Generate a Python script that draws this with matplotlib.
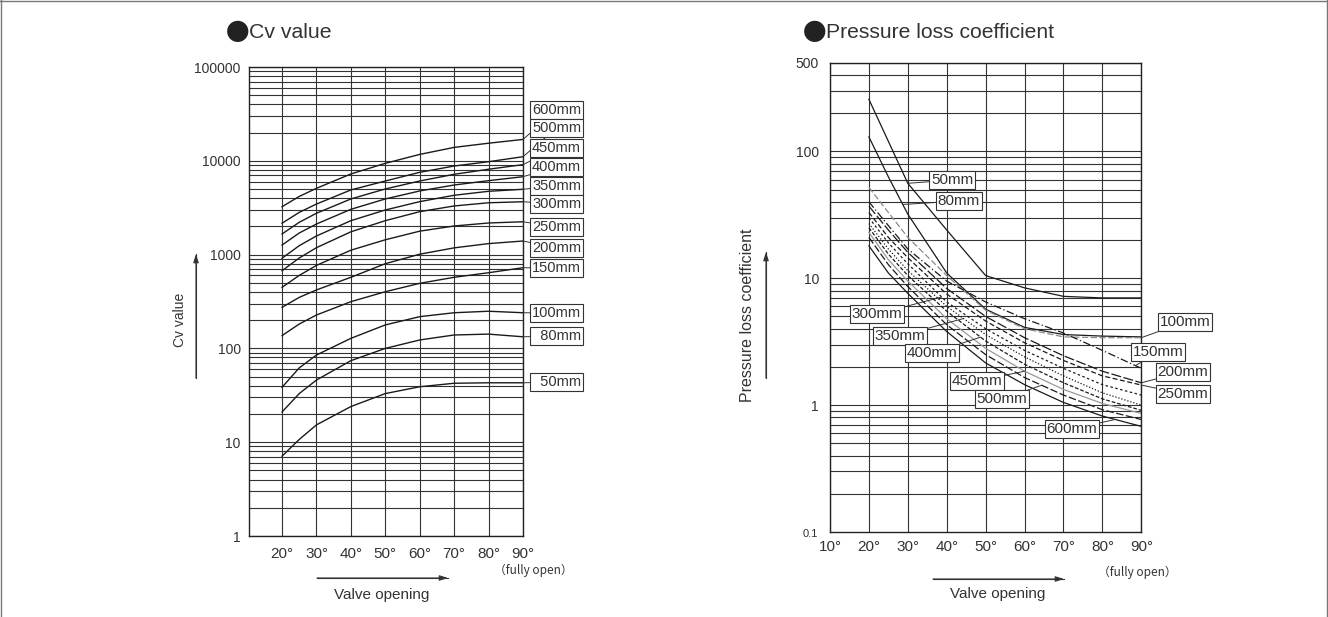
import numpy as np
import matplotlib
matplotlib.use("Agg")
import matplotlib.pyplot as plt
from matplotlib.ticker import FixedLocator, LogLocator, NullFormatter

plt.rcParams['font.family'] = ['Liberation Sans', 'DejaVu Sans']

W, H = 1328, 617
TXT = '#333333'

# ---- Cv value chart data (valve opening in degrees) ----
cv_deg = [20, 25, 30, 40, 50, 60, 70, 80, 90]
cv_600 = [3240, 4170, 5090, 7240, 9400, 11700, 13900, 15400, 16900]
cv_500 = [2160, 2820, 3460, 4890, 6090, 7540, 8800, 9780, 11060]
cv_450 = [1660, 2210, 2760, 3920, 5010, 6090, 7180, 8130, 9100]
cv_400 = [1265, 1700, 2120, 3040, 3920, 4770, 5520, 6140, 6770]
cv_350 = [915, 1245, 1580, 2300, 2990, 3670, 4290, 4730, 4970]
cv_300 = [673, 920, 1185, 1750, 2300, 2870, 3300, 3570, 3660]
cv_250 = [448, 600, 767, 1114, 1439, 1778, 2018, 2173, 2239]
cv_200 = [274, 350, 420, 573, 800, 1010, 1180, 1310, 1396]
cv_150 = [137, 182, 227, 315, 402, 494, 573, 641, 725]
cv_100 = [38.5, 62, 85, 128, 178, 218, 240, 249, 240]
cv_80 = [21, 33, 46, 74, 100, 123, 139, 142, 133]
cv_50 = [7.1, 10.7, 15.3, 24, 33, 39, 42.5, 43, 43]

cv_sizes = ['600mm', '500mm', '450mm', '400mm', '350mm', '300mm',
            '250mm', '200mm', '150mm', '100mm', '  80mm', '  50mm']
cv_label_y = [110, 128, 148, 167, 186, 204, 227, 248, 268, 313, 336, 382]

# ---- Pressure loss coefficient chart data ----
pl_deg = [20, 25, 30, 40, 50, 60, 70, 80, 90]
pl_50 = [257, 120, 56, 24, 10.5, 8.4, 7.2, 7.0, 7.0]
pl_80 = [130, 63, 32, 11, 5.7, 4.1, 3.6, 3.5, 3.45]
pl_100 = [52, 33, 21, 10.5, 5.6, 4.0, 3.45, 3.4, 3.4]
pl_150 = [40, 26, 17, 9.5, 6.5, 4.8, 3.7, 2.7, 1.95]
pl_200 = [37, 24, 16, 8.3, 5.0, 3.4, 2.45, 1.85, 1.5]
pl_250 = [33, 21, 14.5, 7.5, 4.6, 3.1, 2.25, 1.7, 1.44]
pl_300 = [30, 19, 13, 6.5, 4.0, 2.7, 1.95, 1.45, 1.2]
pl_350 = [27, 17, 11.5, 6.0, 3.6, 2.4, 1.7, 1.25, 1.0]
pl_400 = [25, 15.5, 10.5, 5.5, 3.2, 2.1, 1.5, 1.12, 0.91]
pl_450 = [23, 14, 9.5, 4.8, 2.8, 1.85, 1.33, 1.03, 0.86]
pl_500 = [21, 12.8, 8.6, 4.3, 2.5, 1.65, 1.2, 0.92, 0.77]
pl_600 = [18, 11, 7.6, 3.8, 2.15, 1.45, 1.05, 0.82, 0.68]

pl_sizes = ['50mm', '80mm', '100mm', '150mm', '200mm', '250mm',
            '300mm', '350mm', '400mm', '450mm', '500mm', '600mm']
# where the leader line touches the curve (degrees) and label centre (pixels)
pl_lead_deg = [30, 28.7, 90, 88.5, 90, 90, 38.7, 44.3, 48.7, 60, 64.4, 83.3]
pl_label_xy = [(952, 180), (959, 201), (1185, 322), (1158, 352), (1183, 372),
               (1183, 394), (877, 314), (900, 336), (932, 353), (977, 381),
               (1002, 399), (1072, 429)]


def fp(x, y):
    # image pixel (top-left origin) -> figure pixel
    return (x, H - y)


def fx(x, y):
    return (x / W, 1 - y / H)


def arrow(x0, y0, x1, y1):
    fig.add_artist(plt.Line2D([x0 / W, x1 / W], [1 - y0 / H, 1 - y1 / H], color=TXT, lw=0.8))
    fig.text(*fx(x1, y1), '', fontsize=1)
    fig.patches.append(plt.matplotlib.patches.FancyArrowPatch(
        fx(x0, y0), fx(x1, y1), transform=fig.transFigure, figure=fig,
        arrowstyle='-|>,head_length=5,head_width=1.6', color=TXT, lw=0.8,
        shrinkA=0, shrinkB=0, mutation_scale=1))


fig = plt.figure(figsize=(W / 100, H / 100), dpi=100)

# figure frame
for xs, ys in [([0.5, 0.5], [0, H]), ([W - 1.5, W - 1.5], [0, H]), ([0, W], [H - 0.5, H - 0.5])]:
    fig.add_artist(plt.Line2D(np.array(xs) / W, np.array(ys) / H, color='#777777', lw=1))


def style_axes(ax):
    for s in ax.spines.values():
        s.set_color('#222222')
        s.set_linewidth(1.0)
    ax.grid(which='major', color='#333333', lw=0.8)
    ax.grid(which='minor', axis='y', color='#333333', lw=0.8)
    ax.tick_params(which='both', length=0, colors=TXT)
    ax.yaxis.set_minor_locator(LogLocator(base=10, subs=np.arange(2, 10)))
    ax.yaxis.set_minor_formatter(NullFormatter())
    ax.set_axisbelow(True)


# ================= Cv value =================
ax1 = fig.add_axes([249 / W, 81 / H, 274 / W, 469 / H])
ax1.set_yscale('log')
ax1.set_xlim(10.4, 90)
ax1.set_ylim(1, 100000)
style_axes(ax1)
ax1.xaxis.set_major_locator(FixedLocator([20, 30, 40, 50, 60, 70, 80, 90]))
ax1.set_xticklabels(['%d°' % d for d in range(20, 100, 10)], fontsize=11)
ax1.yaxis.set_major_locator(FixedLocator([1, 10, 100, 1000, 10000, 100000]))
ax1.set_yticklabels(['1', '10', '100', '1000', '10000', '100000'], fontsize=10)
ax1.tick_params(axis='x', pad=8)
ax1.tick_params(axis='y', pad=6)

cv_series = [cv_600, cv_500, cv_450, cv_400, cv_350, cv_300,
             cv_250, cv_200, cv_150, cv_100, cv_80, cv_50]
for name, vals, ly in zip(cv_sizes, cv_series, cv_label_y):
    ax1.plot(cv_deg, vals, color='#1a1a1a', lw=1.0)
    ax1.annotate(name, xy=(cv_deg[-1], vals[-1]), xycoords='data',
                 xytext=fp(532, ly), textcoords='figure pixels',
                 ha='left', va='center', fontsize=10.5, color=TXT,
                 bbox=dict(boxstyle='square,pad=0.12', fc='white', ec='#333333', lw=0.8),
                 arrowprops=dict(arrowstyle='-', color='#333333', lw=0.7,
                                 shrinkA=0, shrinkB=0),
                 annotation_clip=False)

fig.text(*fx(226, 33), '●', fontsize=17, color='#222222', ha='left', va='center',
         family=['Noto Sans CJK JP'])
fig.text(*fx(249, 33), 'Cv value', fontsize=15.3, color=TXT, ha='left', va='center')
fig.text(*fx(180, 320), 'Cv value', fontsize=10, color=TXT, rotation=90,
         ha='center', va='center')
arrow(196, 378, 196, 254)
arrow(317, 578, 448, 578)
fig.text(*fx(382, 595), 'Valve opening', fontsize=11, color=TXT, ha='center', va='center')
fig.text(*fx(533, 570), '（fully open）', fontsize=8.5, color=TXT, ha='center', va='center',
         family=['Noto Sans CJK JP', 'Liberation Sans'])

# ================= Pressure loss coefficient =================
ax2 = fig.add_axes([830 / W, 85 / H, 311.3 / W, 469.3 / H])
ax2.set_yscale('log')
ax2.set_xlim(10, 90)
ax2.set_ylim(0.1, 500)
style_axes(ax2)
ax2.xaxis.set_major_locator(FixedLocator(list(range(10, 100, 10))))
ax2.set_xticklabels(['%d°' % d for d in range(10, 100, 10)], fontsize=11)
ax2.yaxis.set_major_locator(FixedLocator([1, 10, 100, 500]))
ax2.set_yticklabels(['1', '10', '100', '500'], fontsize=10)
ax2.tick_params(axis='x', pad=6)
ax2.tick_params(axis='y', pad=8)

pl_series = [pl_50, pl_80, pl_100, pl_150, pl_200, pl_250,
             pl_300, pl_350, pl_400, pl_450, pl_500, pl_600]
pl_styles = [
    dict(color='#1a1a1a', ls='-'),
    dict(color='#1a1a1a', ls='-'),
    dict(color='#8a8a8a', ls=(0, (5, 2))),
    dict(color='#1a1a1a', ls=(0, (6, 2, 1, 2))),
    dict(color='#1a1a1a', ls=(0, (8, 2))),
    dict(color='#1a1a1a', ls=(0, (4, 2))),
    dict(color='#1a1a1a', ls=(0, (2, 2))),
    dict(color='#1a1a1a', ls=(0, (1, 1.5))),
    dict(color='#1a1a1a', ls=(0, (3, 1.5))),
    dict(color='#999999', ls='-'),
    dict(color='#1a1a1a', ls=(0, (6, 2))),
    dict(color='#1a1a1a', ls='-'),
]
for vals, st in zip(pl_series, pl_styles):
    ax2.plot(pl_deg, vals, lw=0.9, **st)

for name, vals, ld, (lx, ly) in zip(pl_sizes, pl_series, pl_lead_deg, pl_label_xy):
    yv = 10 ** np.interp(ld, pl_deg, np.log10(vals))
    ax2.annotate(name, xy=(ld, yv), xycoords='data',
                 xytext=fp(lx, ly), textcoords='figure pixels',
                 ha='center', va='center', fontsize=11, color=TXT,
                 bbox=dict(boxstyle='square,pad=0.1', fc='white', ec='#333333', lw=0.8),
                 arrowprops=dict(arrowstyle='-', color='#333333', lw=0.7,
                                 shrinkA=0, shrinkB=0),
                 annotation_clip=False)

fig.text(*fx(803, 33), '●', fontsize=17, color='#222222', ha='left', va='center',
         family=['Noto Sans CJK JP'])
fig.text(*fx(826, 33), 'Pressure loss coefficient', fontsize=15.2, color=TXT,
         ha='left', va='center')
fig.text(*fx(810, 534), '0.1', fontsize=8, color=TXT, ha='center', va='center')
fig.text(*fx(748, 315), 'Pressure loss coefficient', fontsize=11.5, color=TXT,
         rotation=90, ha='center', va='center')
arrow(766, 378, 766, 252)
arrow(933, 579, 1064, 579)
fig.text(*fx(998, 594), 'Valve opening', fontsize=11, color=TXT, ha='center', va='center')
fig.text(*fx(1137, 572), '（fully open）', fontsize=8.5, color=TXT, ha='center', va='center',
         family=['Noto Sans CJK JP', 'Liberation Sans'])

fig.savefig('out.png', dpi=100)
